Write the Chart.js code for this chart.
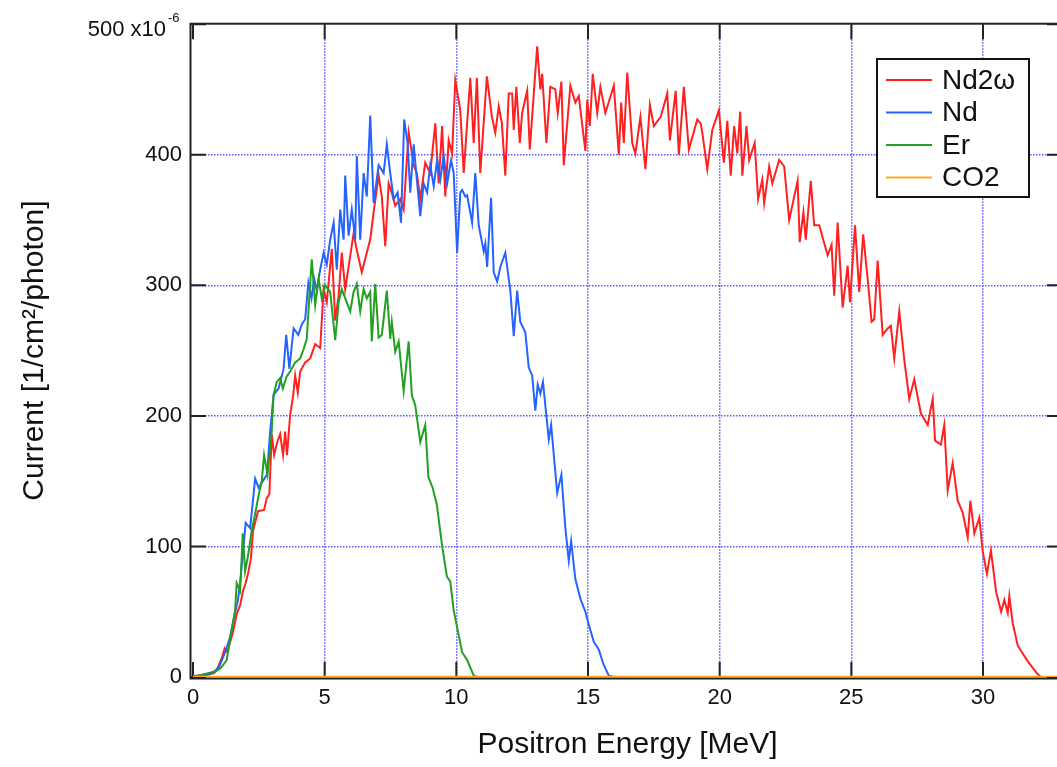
<!DOCTYPE html>
<html>
<head>
<meta charset="utf-8">
<script src="https://cdn.jsdelivr.net/npm/chart.js@4.4.0/dist/chart.umd.min.js"></script>
<style>
  html, body { margin: 0; padding: 0; background: #fff; overflow: hidden; }
  #wrap { width: 1057px; height: 767px; overflow: hidden; }
</style>
</head>
<body>
<div id="wrap"><canvas id="lineChart" width="1070" height="767"></canvas></div>
<script>
// series names + colours (legend order)
const seriesNames = ["Nd2\u03c9", "Nd", "Er", "CO2"];
const seriesColors = ["#ff2020", "#2563ff", "#22a022", "#ffaa1e"];

const xTickValues = [0, 5, 10, 15, 20, 25, 30];
const yTickValues = [0, 100, 200, 300, 400, 500];

// Nd2w - red (energy in MeV, current in 1e-6 units)
const nd2wEnergy = [0.0, 0.2, 0.4, 0.6, 0.8, 0.9, 1.1, 1.2, 1.3, 1.5, 1.67, 1.79, 1.9, 2.0, 2.1, 2.2, 2.28, 2.47, 2.7, 2.8,
  2.9, 2.99, 3.08, 3.2, 3.31, 3.42, 3.5, 3.57, 3.69, 3.8, 3.88, 3.98, 4.07, 4.26, 4.45, 4.64, 4.83, 4.96, 5.08, 5.27,
  5.4, 5.53, 5.65, 5.78, 5.9, 6.1, 6.22, 6.41, 6.6, 6.73, 6.86, 7.05, 7.17, 7.3, 7.43, 7.55, 7.68, 7.87, 8.0, 8.19,
  8.38, 8.5, 8.63, 8.82, 9.01, 9.2, 9.33, 9.46, 9.58, 9.71, 9.84, 9.96, 10.15, 10.28, 10.53, 10.66, 10.78, 10.91, 11.16, 11.35,
  11.48, 11.61, 11.73, 11.86, 11.99, 12.12, 12.18, 12.28, 12.41, 12.5, 12.69, 12.79, 13.07, 13.19, 13.26, 13.42, 13.57, 13.76, 13.85, 13.99,
  14.08, 14.33, 14.52, 14.65, 14.9, 14.97, 15.07, 15.18, 15.35, 15.47, 15.66, 15.98, 16.17, 16.26, 16.36, 16.49, 16.68, 16.8, 16.99, 17.18,
  17.35, 17.5, 17.76, 18.01, 18.11, 18.33, 18.45, 18.64, 18.83, 19.15, 19.28, 19.34, 19.53, 19.72, 19.97, 20.16, 20.29, 20.42, 20.55, 20.67,
  20.78, 20.86, 21.02, 21.12, 21.33, 21.46, 21.62, 21.69, 21.88, 22.0, 22.26, 22.45, 22.64, 22.96, 23.04, 23.18, 23.27, 23.46, 23.59, 23.78,
  24.1, 24.25, 24.35, 24.48, 24.67, 24.86, 24.95, 25.14, 25.3, 25.45, 25.62, 25.77, 25.87, 26.0, 26.19, 26.38, 26.5, 26.63, 26.82, 27.01,
  27.2, 27.39, 27.64, 27.9, 28.09, 28.18, 28.4, 28.53, 28.66, 28.85, 29.04, 29.23, 29.42, 29.52, 29.67, 29.86, 29.99, 30.15, 30.3, 30.5,
  30.69, 30.81, 30.94, 31.0, 31.13, 31.32, 31.7, 32.08, 32.2];
const nd2wCurrent = [1, 1, 2, 2, 3, 5, 15, 22, 19, 33, 49, 55, 66, 72, 80, 91, 112, 127, 128, 137,
  140, 186, 170, 180, 186, 170, 188, 170, 201, 215, 231, 218, 234, 241, 244, 255, 252, 297, 287, 328,
  273, 292, 325, 297, 313, 340, 327, 310, 325, 335, 356, 384, 368, 330, 378, 371, 361, 366, 358, 417,
  392, 386, 366, 394, 386, 424, 378, 422, 368, 411, 401, 457, 434, 386, 459, 409, 459, 386, 460, 429,
  417, 437, 424, 384, 447, 447, 419, 452, 409, 432, 449, 404, 483, 450, 462, 409, 452, 450, 432, 456,
  392, 453, 440, 445, 403, 442, 422, 462, 432, 452, 432, 453, 400, 440, 409, 463, 409, 401, 429, 389,
  438, 422, 429, 447, 411, 449, 400, 452, 404, 427, 424, 417, 389, 419, 434, 394, 426, 384, 422, 401,
  433, 384, 422, 396, 409, 366, 381, 363, 391, 378, 396, 391, 350, 380, 333, 356, 335, 380, 346, 346,
  323, 331, 292, 348, 283, 315, 287, 346, 295, 339, 305, 272, 274, 319, 262, 267, 269, 244, 280, 243,
  213, 228, 202, 193, 213, 181, 178, 193, 143, 164, 135, 126, 107, 135, 110, 122, 96, 79, 97, 65,
  50, 59, 49, 62, 41, 24, 12, 2, 0];

// Nd - blue
const ndEnergy = [0.0, 0.2, 0.4, 0.6, 0.8, 1.0, 1.2, 1.4, 1.6, 1.7, 1.8, 2.0, 2.17, 2.36, 2.49, 2.65, 2.81, 2.93, 3.06, 3.25,
  3.44, 3.54, 3.66, 3.82, 4.0, 4.13, 4.26, 4.38, 4.5, 4.6, 4.7, 4.83, 4.96, 5.08, 5.21, 5.34, 5.46, 5.59, 5.72, 5.78,
  5.91, 6.03, 6.16, 6.22, 6.35, 6.48, 6.6, 6.73, 6.86, 7.05, 7.24, 7.36, 7.49, 7.62, 7.77, 7.9, 8.02, 8.15, 8.25, 8.38,
  8.5, 8.63, 8.76, 8.89, 9.01, 9.14, 9.27, 9.39, 9.52, 9.65, 9.8, 9.9, 10.03, 10.15, 10.22, 10.34, 10.41, 10.6, 10.72, 10.85,
  11.04, 11.1, 11.17, 11.32, 11.42, 11.55, 11.67, 11.86, 12.05, 12.18, 12.31, 12.43, 12.62, 12.75, 12.88, 13.0, 13.09, 13.19, 13.29, 13.51,
  13.6, 13.83, 13.99, 14.14, 14.27, 14.36, 14.52, 14.71, 14.9, 15.03, 15.22, 15.41, 15.6, 15.79, 16.0];
const ndCurrent = [0, 1, 1, 2, 4, 8, 18, 30, 50, 58, 74, 118, 114, 152, 145, 150, 155, 188, 216, 221,
  236, 262, 236, 267, 262, 270, 274, 302, 290, 305, 296, 312, 325, 316, 335, 348, 312, 358, 335, 384,
  338, 358, 335, 399, 335, 386, 368, 430, 363, 392, 386, 408, 386, 366, 371, 348, 427, 409, 371, 408,
  381, 353, 378, 371, 392, 376, 396, 381, 399, 378, 396, 386, 325, 371, 373, 368, 369, 348, 386, 346,
  326, 332, 314, 367, 310, 303, 314, 325, 296, 261, 296, 272, 264, 237, 231, 204, 224, 217, 226, 182,
  193, 141, 155, 114, 89, 104, 75, 60, 50, 40, 27, 21, 9, 1, 0];

// Er - green
const erEnergy = [0.0, 0.2, 0.4, 0.6, 0.8, 1.0, 1.1, 1.28, 1.47, 1.6, 1.66, 1.79, 1.89, 1.98, 2.1, 2.23, 2.36, 2.5, 2.61, 2.7,
  2.83, 2.99, 3.06, 3.18, 3.31, 3.41, 3.55, 3.69, 3.88, 4.07, 4.2, 4.32, 4.42, 4.51, 4.64, 4.77, 4.89, 5.02, 5.21, 5.4,
  5.53, 5.65, 5.78, 5.97, 6.1, 6.22, 6.35, 6.48, 6.6, 6.73, 6.79, 6.92, 7.05, 7.17, 7.36, 7.49, 7.55, 7.68, 7.81, 8.0,
  8.19, 8.31, 8.44, 8.63, 8.82, 8.94, 9.1, 9.26, 9.45, 9.64, 9.77, 9.9, 10.03, 10.22, 10.41, 10.66, 10.8];
const erCurrent = [0, 1, 2, 3, 4, 6, 8, 13, 36, 51, 72, 66, 110, 81, 94, 112, 125, 140, 150, 170,
  155, 188, 216, 226, 229, 221, 230, 234, 241, 244, 251, 259, 292, 320, 285, 305, 290, 300, 295, 258,
  287, 297, 290, 280, 295, 301, 280, 297, 290, 295, 257, 301, 260, 262, 296, 259, 272, 249, 257, 219,
  257, 216, 208, 180, 193, 153, 145, 132, 102, 77, 73, 51, 38, 19, 13, 1, 0];

// CO2 - orange, flat on zero
const co2Energy = [0, 5, 10, 15, 20, 25, 30, 33];
const co2Current = [0, 0, 0, 0, 0, 0, 0, 0];

function toPoints(energy, current) {
  return energy.map((e, i) => ({ x: e, y: current[i] }));
}

const gridBlue = "rgba(80, 80, 255, 0.95)";
const fontFamily = "'Liberation Sans', Arial, Helvetica, sans-serif";
Chart.defaults.font.family = fontFamily;
Chart.defaults.color = "#111";

// frame, inward ticks (under the data)
const framePlugin = {
  id: "frame",
  beforeDatasetsDraw(chart) {
    const { ctx, chartArea: a, scales: { x, y } } = chart;
    ctx.save();
    ctx.strokeStyle = "#222";
    ctx.lineWidth = 2;
    ctx.beginPath();
    xTickValues.forEach((v) => {
      const px = x.getPixelForValue(v);
      ctx.moveTo(px, a.bottom);
      ctx.lineTo(px, a.bottom - 15);
      ctx.moveTo(px, a.top);
      ctx.lineTo(px, a.top + 15);
    });
    yTickValues.forEach((v) => {
      const py = y.getPixelForValue(v);
      ctx.moveTo(a.left - 2, py);
      ctx.lineTo(a.left + 13, py);
      ctx.moveTo(a.right, py);
      ctx.lineTo(a.right - 15, py);
    });
    ctx.stroke();
    ctx.strokeRect(a.left - 2.5, a.top - 0.5, a.right - a.left + 2.5, a.bottom - a.top + 2);
    ctx.restore();
  },
  afterDraw(chart) {
    const { ctx, scales: { y } } = chart;
    ctx.save();
    // top tick label with exponent
    const py = y.getPixelForValue(500);
    ctx.fillStyle = "#111";
    ctx.textBaseline = "middle";
    ctx.textAlign = "right";
    ctx.font = "22px " + fontFamily;
    ctx.fillText("500 x10", 166, py + 6);
    ctx.textAlign = "left";
    ctx.font = "13px " + fontFamily;
    ctx.fillText("-6", 168, py - 6);

    // legend box
    const lx = 877, ly = 59, lw = 152, lh = 138;
    ctx.fillStyle = "#fff";
    ctx.fillRect(lx, ly, lw, lh);
    ctx.strokeStyle = "#111";
    ctx.lineWidth = 2;
    ctx.strokeRect(lx, ly, lw, lh);
    ctx.font = "28px " + fontFamily;
    ctx.textAlign = "left";
    chart.data.datasets.forEach((ds, i) => {
      const ry = ly + 21 + i * 32.5;
      ctx.strokeStyle = ds.borderColor;
      ctx.lineWidth = 2;
      ctx.beginPath();
      ctx.moveTo(lx + 9, ry);
      ctx.lineTo(lx + 55, ry);
      ctx.stroke();
      ctx.fillStyle = "#111";
      ctx.fillText(ds.label, lx + 65, ry + 1);
    });
    ctx.restore();
  },
};

const ctx = document.getElementById("lineChart").getContext("2d");
const lineChart = new Chart(ctx, {
  type: "line",
  data: {
    datasets: [
      { label: seriesNames[0], data: toPoints(nd2wEnergy, nd2wCurrent), borderColor: seriesColors[0], order: 4 },
      { label: seriesNames[1], data: toPoints(ndEnergy, ndCurrent), borderColor: seriesColors[1], order: 3 },
      { label: seriesNames[2], data: toPoints(erEnergy, erCurrent), borderColor: seriesColors[2], order: 2 },
      { label: seriesNames[3], data: toPoints(co2Energy, co2Current), borderColor: seriesColors[3], order: 1, borderWidth: 2.5 },
    ],
  },
  options: {
    responsive: false,
    animation: false,
    layout: { padding: { left: 2, top: 20, right: 8, bottom: 0 } },
    elements: {
      point: { radius: 0 },
      line: { tension: 0, borderWidth: 2, fill: false },
    },
    plugins: {
      legend: { display: false },
      tooltip: { enabled: false },
    },
    scales: {
      x: {
        type: "linear",
        min: 0,
        max: 33,
        afterBuildTicks: (s) => { s.ticks = xTickValues.map((v) => ({ value: v })); },
        afterFit: (s) => { s.height = 90; },
        grid: {
          drawTicks: false,
          lineWidth: 1.5,
          color: (c) => (c.tick && c.tick.value === 0 ? "transparent" : gridBlue),
        },
        border: { display: false, dash: [1.5, 1.5] },
        ticks: { padding: 8, font: { size: 22 }, color: "#111" },
        title: {
          display: true,
          text: "Positron Energy [MeV]",
          font: { size: 30 },
          color: "#111",
          padding: { top: 0, bottom: 4 },
        },
      },
      y: {
        min: 0,
        max: 500,
        afterBuildTicks: (s) => { s.ticks = yTickValues.map((v) => ({ value: v })); },
        afterFit: (s) => { s.width = 191; },
        grid: {
          drawTicks: false,
          lineWidth: 1.5,
          color: (c) => (c.tick && (c.tick.value === 0 || c.tick.value === 500) ? "transparent" : gridBlue),
        },
        border: { display: false, dash: [1.5, 1.5] },
        ticks: {
          padding: 11,
          font: { size: 22 },
          color: "#111",
          callback: (v) => (v === 500 ? "" : v),
        },
        title: {
          display: true,
          text: "Current [1/cm\u00b2/photon]",
          font: { size: 30 },
          color: "#111",
          padding: { top: 15, bottom: 0 },
        },
      },
    },
  },
  plugins: [framePlugin],
});
</script>
</body>
</html>
